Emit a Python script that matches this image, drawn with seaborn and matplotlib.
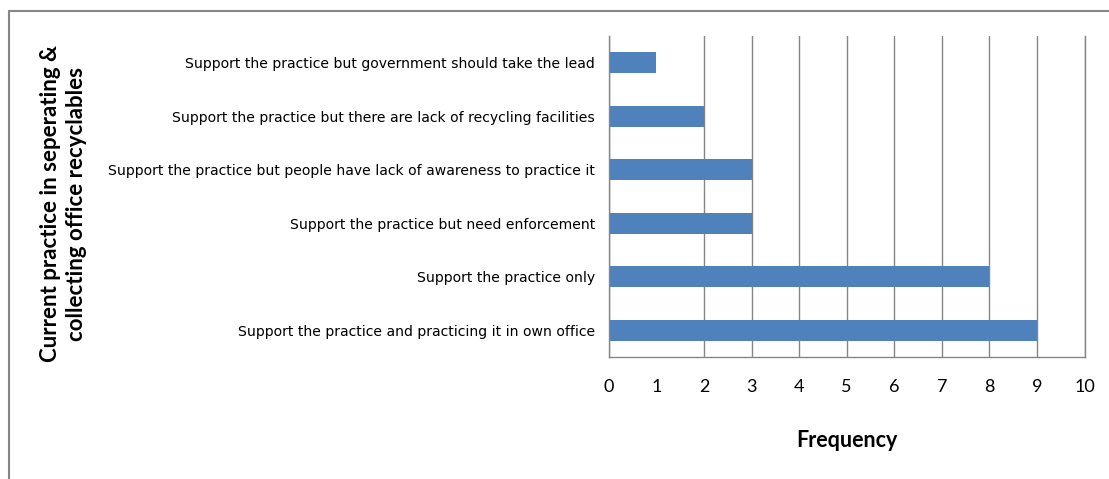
import numpy as np
import pandas as pd
import matplotlib
matplotlib.use("Agg")
import matplotlib.pyplot as plt
from matplotlib.lines import Line2D
import seaborn as sns

categories = [
    "Support the practice but government should take the lead",
    "Support the practice but there are lack of recycling facilities",
    "Support the practice but people have lack of awareness to practice it",
    "Support the practice but need enforcement",
    "Support the practice only",
    "Support the practice and practicing it in own office",
]
frequency = [1, 2, 3, 3, 8, 9]
x_ticks = list(range(0, 11))

df = pd.DataFrame({"category": categories, "frequency": frequency})

sns.set_style("white")
plt.rcParams["font.family"] = ["Liberation Sans Narrow", "DejaVu Sans"]

grey = "#868686"
fig = plt.figure(figsize=(11.09, 4.79), dpi=100)
ax = fig.add_axes([0.549, 0.2547, 0.429, 0.670])

sns.barplot(data=df, x="frequency", y="category", orient="h", color="#4F81BD",
            saturation=1, width=0.39, linewidth=0, ax=ax)

ax.set_xlim(0, 10)
ax.set_ylim(5.5, -0.5)
ax.set_xticks(x_ticks)
ax.set_xticklabels([str(t) for t in x_ticks], family=["Lato", "DejaVu Sans"],
                   fontsize=13, color="black")
ax.tick_params(axis="x", length=5, color=grey, width=1, pad=11)
ax.set_yticks(range(len(categories)))
ax.set_yticklabels(categories, fontsize=10.1, color="black")
ax.tick_params(axis="y", which="major", length=0, pad=10)
ax.set_yticks(np.arange(-0.5, len(categories)), minor=True)
ax.tick_params(axis="y", which="minor", length=5, color=grey, width=1)

ax.grid(axis="x", color=grey, linewidth=1)
ax.get_xgridlines()[1].set_visible(False)
ax.set_axisbelow(True)
ax.spines["top"].set_visible(False)
for s in ["left", "bottom", "right"]:
    ax.spines[s].set_color(grey)
    ax.spines[s].set_linewidth(1)

ax.set_xlabel("Frequency", family=["Lato", "DejaVu Sans"], fontsize=15.5,
              fontweight="bold", labelpad=25, color="black")
ax.set_ylabel("")

fig.text(0.057, 0.575, "Current practice in seperating &\ncollecting office recyclables",
         rotation=90, ha="center", va="center", family=["Lato", "DejaVu Sans"],
         fontsize=16, fontweight="bold", linespacing=1.3, color="black")

# outer chart border (left and top only visible)
fig.add_artist(Line2D([9 / 1109, 9 / 1109], [0, 1 - 11 / 479], color=grey, lw=1.5,
                      transform=fig.transFigure))
fig.add_artist(Line2D([9 / 1109, 1], [1 - 11 / 479, 1 - 11 / 479], color=grey, lw=1.5,
                      transform=fig.transFigure))

fig.savefig("out.png", dpi=100)
